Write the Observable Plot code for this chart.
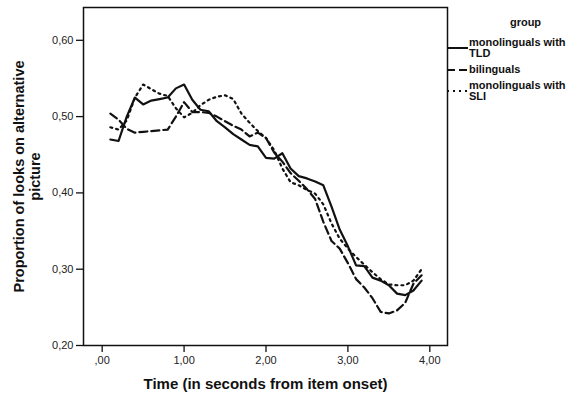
<!DOCTYPE html>
<html><head><meta charset="utf-8">
<script src="https://cdn.jsdelivr.net/npm/d3@7"></script>
<script src="https://cdn.jsdelivr.net/npm/@observablehq/plot@0.6"></script>
<style>
body{margin:0;background:#fff;font-family:"Liberation Sans",Arial,sans-serif;}
#wrap{position:relative;width:583px;height:398px;overflow:hidden;}
#legend{position:absolute;left:446px;top:16px;width:137px;font-weight:bold;font-size:11px;color:#111;}
#legend .title{padding-left:22px;text-align:center;line-height:13px;margin-bottom:8px;}
#legend .entry{display:flex;align-items:center;margin-bottom:5px;}
#legend .entry svg{flex:none;width:23px;height:10px;}
#legend .entry div{line-height:11px;}
</style></head><body><div id="wrap"></div>
<script>
const groups = ["monolinguals with TLD", "bilinguals", "monolinguals with SLI"];
const time = [0.1,0.2,0.3,0.4,0.5,0.6,0.7,0.8,0.9,1.0,1.1,1.2,1.3,1.4,1.5,1.6,1.7,1.8,1.9,2.0,
              2.1,2.2,2.3,2.4,2.5,2.6,2.7,2.8,2.9,3.0,3.1,3.2,3.3,3.4,3.5,3.6,3.7,3.8,3.9];
const tld = [0.470,0.468,0.500,0.525,0.516,0.521,0.523,0.525,0.537,0.542,0.522,0.509,0.507,0.494,0.486,0.477,0.470,0.463,0.461,0.446,
             0.445,0.452,0.432,0.422,0.419,0.415,0.410,0.382,0.352,0.330,0.305,0.304,0.289,0.285,0.279,0.268,0.266,0.272,0.285];
const bilinguals = [0.504,0.496,0.484,0.479,0.480,0.481,0.482,0.483,0.500,0.519,0.506,0.506,0.505,0.500,0.494,0.488,0.483,0.474,0.479,0.472,
             0.453,0.441,0.426,0.416,0.405,0.392,0.362,0.337,0.327,0.308,0.287,0.276,0.262,0.244,0.242,0.246,0.256,0.281,0.292];
const sli = [0.486,0.483,0.495,0.525,0.542,0.536,0.530,0.527,0.511,0.499,0.505,0.515,0.522,0.526,0.528,0.523,0.504,0.492,0.481,0.472,
             0.456,0.432,0.414,0.410,0.404,0.399,0.385,0.360,0.340,0.327,0.316,0.306,0.296,0.287,0.280,0.279,0.279,0.285,0.300];
const xTicks = [0, 1, 2, 3, 4];
const yTicks = [0.2, 0.3, 0.4, 0.5, 0.6];
const xTitle = "Time (in seconds from item onset)";
const yTitle = "Proportion of looks on alternative\npicture";
const dashes = ["none", "8,4", "2,4"];

const series = [tld, bilinguals, sli];
const rows = series.map(vals => time.map((t, i) => ({t, v: vals[i]})));
const fmtX = d => d === 0 ? ",00" : d.toFixed(2).replace(".", ",");
const fmtY = d => d.toFixed(2).replace(".", ",");

const chart = Plot.plot({
  width: 583, height: 398,
  marginLeft: 83, marginRight: 136, marginTop: 7, marginBottom: 53,
  style: {fontFamily: "'Liberation Sans', Arial, sans-serif", fontSize: "11px", color: "#222", background: "#fff"},
  x: {domain: [-0.228, 4.216]},
  y: {domain: [0.2, 0.643]},
  marks: [
    Plot.axisX(xTicks, {tickSize: 7, tickPadding: 4, tickFormat: fmtX, label: null, stroke: "#111", strokeWidth: 1.3}),
    Plot.axisY(yTicks, {tickSize: 7, tickPadding: 3, tickFormat: fmtY, label: null, stroke: "#111", strokeWidth: 1.3}),
    ...rows.map((r, i) => Plot.line(r, {x: "t", y: "v", stroke: "#111", strokeWidth: 2.2, strokeDasharray: dashes[i], strokeLinejoin: "round"})),
    Plot.frame({stroke: "#111", strokeWidth: 1.5}),
    Plot.text([xTitle], {frameAnchor: "bottom", dy: 39, fontSize: 15, fontWeight: "bold", fill: "#111", lineAnchor: "middle"}),
    Plot.text([yTitle], {frameAnchor: "left", dx: -57, rotate: -90, textAnchor: "middle", fontSize: 14.5, fontWeight: "bold", fill: "#111", lineAnchor: "middle", lineHeight: 1.15})
  ]
});
const wrap = document.getElementById("wrap");
wrap.appendChild(chart);

const legend = document.createElement("div");
legend.id = "legend";
const title = document.createElement("div");
title.className = "title";
title.textContent = "group";
legend.appendChild(title);
groups.forEach((g, i) => {
  const e = document.createElement("div");
  e.className = "entry";
  const da = dashes[i] === "none" ? "" : ` stroke-dasharray="${dashes[i]}"`;
  e.innerHTML = `<svg viewBox="0 0 23 10"><line x1="1" x2="22" y1="5" y2="5" stroke="#111" stroke-width="2"${da}/></svg>`;
  const t = document.createElement("div");
  t.innerHTML = g.replace(/ (TLD|SLI)$/, "<br>$1");
  e.appendChild(t);
  legend.appendChild(e);
});
wrap.appendChild(legend);
</script>
</body></html>
